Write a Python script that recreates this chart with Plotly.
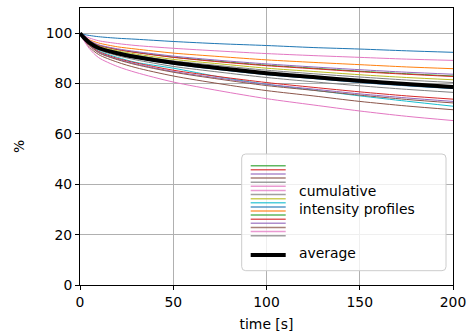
import numpy as np
import plotly.graph_objects as go

# time samples [s]
t = [0, 2, 5, 10, 20, 30, 50, 75, 100, 125, 150, 175, 200]

# cumulative intensity profiles [%] (tab10 colour cycle order)
p_blue1 = [100, 99.5, 99.1, 98.6, 98.0, 97.6, 96.7, 95.8, 95.1, 94.3, 93.7, 93.0, 92.4]
p_orange1 = [100, 98.8, 97.4, 96.1, 94.6, 93.7, 92.1, 90.7, 89.4, 88.4, 87.5, 86.6, 85.9]
p_green1 = [100, 98.6, 96.9, 95.2, 93.5, 92.4, 90.5, 88.8, 87.3, 86.1, 84.9, 83.9, 83.0]
p_red1 = [100, 98.6, 96.9, 95.2, 93.5, 92.3, 90.4, 88.6, 87.1, 85.9, 84.7, 83.7, 82.8]
p_purple1 = [100, 98.6, 97.1, 95.4, 93.8, 92.7, 90.9, 89.2, 87.8, 86.6, 85.5, 84.5, 83.7]
p_brown1 = [100, 97.5, 94.5, 91.5, 88.5, 86.3, 83.0, 79.9, 77.2, 75.1, 72.9, 71.1, 69.6]
p_pink1 = [100, 99.1, 98.1, 97.0, 95.9, 95.1, 94.0, 92.9, 91.9, 91.1, 90.4, 89.7, 89.2]
p_gray1 = [100, 98.3, 96.5, 94.5, 92.6, 91.2, 89.0, 87.1, 85.3, 83.9, 82.6, 81.4, 80.4]
p_olive1 = [100, 98.5, 96.7, 94.8, 93.0, 91.7, 89.6, 87.8, 86.1, 84.8, 83.5, 82.4, 81.5]
p_cyan1 = [100, 98.2, 95.9, 93.0, 90.4, 88.4, 86.1, 82.6, 79.7, 77.4, 75.1, 73.0, 71.0]
p_blue2 = [100, 98.2, 96.1, 93.8, 91.6, 90.1, 87.7, 85.5, 83.5, 82.0, 80.4, 79.1, 78.0]
p_orange2 = [100, 98.3, 96.3, 94.1, 92.0, 90.6, 88.2, 86.1, 84.3, 82.8, 81.3, 80.1, 79.0]
p_green2 = [100, 98.2, 96.2, 94.0, 91.8, 90.3, 88.0, 85.8, 83.9, 82.4, 80.9, 79.6, 78.5]
p_red2 = [100, 97.8, 95.4, 92.7, 90.0, 88.2, 85.3, 82.7, 80.4, 78.5, 76.7, 75.1, 73.8]
p_purple2 = [100, 97.8, 95.2, 92.4, 89.7, 87.8, 84.8, 82.1, 79.7, 77.8, 75.9, 74.3, 72.9]
p_brown2 = [100, 97.8, 95.2, 92.2, 89.5, 87.5, 84.5, 81.7, 79.2, 77.3, 75.4, 73.7, 72.3]
p_pink2 = [100, 97.2, 93.9, 90.3, 86.8, 84.4, 80.6, 77.1, 74.0, 71.5, 69.1, 67.0, 65.3]
p_gray2 = [100, 98.1, 95.9, 93.4, 91.1, 89.4, 86.8, 84.5, 82.4, 80.7, 79.1, 77.7, 76.5]

profiles = [p_blue1, p_orange1, p_green1, p_red1, p_purple1, p_brown1, p_pink1,
            p_gray1, p_olive1, p_cyan1, p_blue2, p_orange2, p_green2, p_red2,
            p_purple2, p_brown2, p_pink2, p_gray2]

x_ticks = [0, 50, 100, 150, 200]
y_ticks = [0, 20, 40, 60, 80, 100]
label_profiles = "cumulative<br>intensity profiles"
label_average = "average"

tab10 = ["#1f77b4", "#ff7f0e", "#2ca02c", "#d62728", "#9467bd",
         "#8c564b", "#e377c2", "#7f7f7f", "#bcbd22", "#17becf"]

average = np.mean(np.array(profiles), axis=0)

fig = go.Figure()
for i, p in enumerate(profiles):
    fig.add_trace(go.Scatter(x=t, y=p, mode="lines",
                             line=dict(color=tab10[i % 10], width=1, shape="spline", smoothing=0.8),
                             showlegend=False, hoverinfo="skip"))
fig.add_trace(go.Scatter(x=t, y=average, mode="lines",
                         line=dict(color="black", width=4, shape="spline", smoothing=0.8),
                         showlegend=False))

FONT = "DejaVu Sans"
FS = 13.9

# custom legend (paper coordinates of plot area)
L, R, T, B = 80, 453, 8, 285
W, H = R - L, B - T
def px(xp):
    return (xp - L) / W
def py(yp):
    return (B - yp) / H

bx0, bx1, by0, by1 = px(241.7), px(446), py(270.7), py(154)
rx, ry = 4 / W, 4 / H
path = (f"M {bx0+rx},{by0} L {bx1-rx},{by0} Q {bx1},{by0} {bx1},{by0+ry} "
        f"L {bx1},{by1-ry} Q {bx1},{by1} {bx1-rx},{by1} L {bx0+rx},{by1} "
        f"Q {bx0},{by1} {bx0},{by1-ry} L {bx0},{by0+ry} Q {bx0},{by0} {bx0+rx},{by0} Z")
shapes = [dict(type="path", path=path, xref="paper", yref="paper",
               fillcolor="rgba(255,255,255,0.8)", line=dict(color="#cccccc", width=1))]
legend_order = [2, 3, 4, 5, 7, 6, 6, 7, 8, 9, 0, 1, 2, 3, 4, 5, 6, 7]
for k, ci in enumerate(legend_order):
    yy = py(165.7 + k * (235.7 - 165.7) / 17)
    shapes.append(dict(type="line", xref="paper", yref="paper", x0=px(250.7), x1=px(285.7),
                       y0=yy, y1=yy, line=dict(color=tab10[ci], width=1.5), opacity=0.75))
shapes.append(dict(type="line", xref="paper", yref="paper", x0=px(250.7), x1=px(285.7),
                   y0=py(255), y1=py(255), line=dict(color="black", width=4)))

annotations = [
    dict(text=label_profiles, xref="paper", yref="paper", x=px(297), y=py(200),
         xanchor="left", yanchor="middle", showarrow=False, align="left",
         font=dict(family=FONT, size=FS, color="black")),
    dict(text=label_average, xref="paper", yref="paper", x=px(297), y=py(253.5),
         xanchor="left", yanchor="middle", showarrow=False, align="left",
         font=dict(family=FONT, size=FS, color="black")),
]

fig.update_layout(
    width=472, height=335,
    margin=dict(l=L, r=472 - R, t=T, b=335 - B),
    paper_bgcolor="white", plot_bgcolor="white",
    font=dict(family=FONT, size=FS, color="black"),
    shapes=shapes, annotations=annotations,
    xaxis=dict(range=[0, 200], tickvals=x_ticks, showgrid=True, gridcolor="#b0b0b0",
               gridwidth=0.8, showline=True, linecolor="black", linewidth=1, mirror=True,
               ticks="outside", ticklen=4, tickcolor="black", zeroline=False, automargin=False,
               title=dict(text="time [s]", standoff=10,
                          font=dict(family=FONT, size=FS))),
    yaxis=dict(range=[0, 110], tickvals=y_ticks, showgrid=True, gridcolor="#b0b0b0",
               gridwidth=0.8, showline=True, linecolor="black", linewidth=1, mirror=True,
               ticks="outside", ticklen=4, tickcolor="black", zeroline=False, automargin=False,
               title=dict(text="%", standoff=17,
                          font=dict(family=FONT, size=FS))),
)

fig.write_html("out.html")
